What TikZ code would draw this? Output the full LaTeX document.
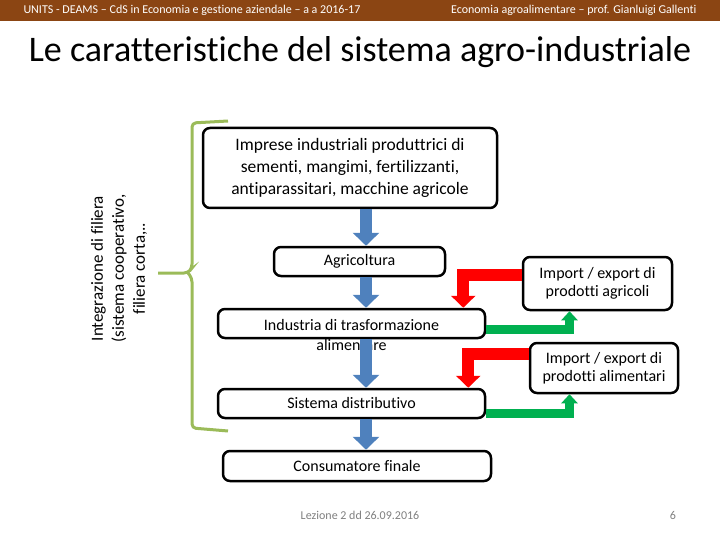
\documentclass[tikz,border=0pt]{standalone}
\usepackage{fontspec}
\setmainfont{Carlito}[Ligatures=NoCommon]
\usetikzlibrary{arrows.meta}
\definecolor{headbrown}{HTML}{8B4513}
\definecolor{chainblue}{HTML}{4F81BD}
\definecolor{importred}{HTML}{FF0000}
\definecolor{exportgreen}{HTML}{00B050}
\definecolor{braceolive}{HTML}{9BBB59}
\definecolor{footgray}{HTML}{7F7F7F}

\begin{document}
\begin{tikzpicture}[x=1pt,y=-1pt,>=Stealth,
 stage/.style={draw,line width=2.5pt,rounded corners=7pt,fill=white,inner sep=0pt,align=center,font=\fontsize{16}{18.3}\selectfont},
 flow/.style={chainblue,line width=12pt,-{Triangle[width=26pt,length=13pt]}},
 importarr/.style={importred,line width=12pt,-{Triangle[width=24pt,length=12pt]}},
 exportarr/.style={exportgreen,line width=9pt,-{Triangle[width=16pt,length=9pt]}}]
\useasboundingbox (0,0) rectangle (720,540);
% intestazione
\fill[headbrown] (0,0) rectangle (720,21);
\node[white,font=\fontsize{12}{14}\selectfont,anchor=west] (hdleft) at (20,10.5) {UNITS - DEAMS – CdS in Economia e gestione aziendale – a a 2016-17};
\node[white,font=\fontsize{12}{14}\selectfont,anchor=east] (hdright) at (700,10.5) {Economia agroalimentare – prof. Gianluigi Gallenti};
\node[font=\fontsize{36}{40}\selectfont] (title) at (360,52) {Le caratteristiche del sistema agro-industriale};
% filiera
\node[stage,minimum width=294pt,minimum height=80pt,font=\fontsize{17.5}{21.7}\selectfont] (firms) at (350,168) {Imprese industriali produttrici di\\sementi,  mangimi, fertilizzanti,\\antiparassitari, macchine agricole};
\node[stage,minimum width=171pt,minimum height=29pt] (agri) at (359.5,261.5) {Agricoltura};
\node[stage,minimum width=267pt,minimum height=29pt,font=\fontsize{16}{20}\selectfont] (indus) at (351.5,323.5) {\raisebox{0pt}[\height][0pt]{\begin{tabular}[t]{@{}c@{}}Industria di trasformazione\\alimentare\end{tabular}}};
\node[stage,minimum width=267pt,minimum height=29pt] (distr) at (351.5,403.5) {Sistema distributivo};
\node[stage,minimum width=268pt,minimum height=30pt] (cons) at (357,466) {Consumatore finale};
\node[stage,minimum width=149pt,minimum height=53pt] (impagri) at (597.5,283.5) {Import / export di\\prodotti agricoli};
\node[stage,minimum width=148pt,minimum height=50pt] (impalim) at (604,368) {Import / export di\\prodotti alimentari};
\coordinate (spine) at (366,0);
\foreach \a/\b in {firms/agri,agri/indus,indus/distr,distr/cons}
 \draw[flow] (\a.south -| spine) -- (\b.north -| spine);
\draw[importarr] ([yshift=8.5pt]impagri.west) -| ([xshift=-23pt]indus.north east);
\draw[importarr] ([yshift=14pt]impalim.west) -| ([xshift=-18pt]distr.north east);
\draw[exportarr] ([yshift=-6pt]indus.east) -| ([xshift=-28pt]impagri.south);
\draw[exportarr] ([yshift=-10pt]distr.east) -| ([xshift=-34.5pt]impalim.south);
% integrazione
\draw[braceolive,line width=3pt,rounded corners=4pt] (228,121) -- (192,123) -- (192,268) -- (188,273) -- (158,273)
 (188,273) -- (192,278) -- (192,428) -- (228,431);
\node[rotate=90,align=center,font=\fontsize{17}{21}\selectfont] (integr) at (119,268.5) {Integrazione di filiera\\(sistema cooperativo,\\filiera corta,..};
% piede
\node[footgray,font=\fontsize{12}{14}\selectfont] (foot) at (360,515) {Lezione 2  dd 26.09.2016};
\node[footgray,font=\fontsize{12}{14}\selectfont] (page) at (673,515) {6};
\end{tikzpicture}
\end{document}
